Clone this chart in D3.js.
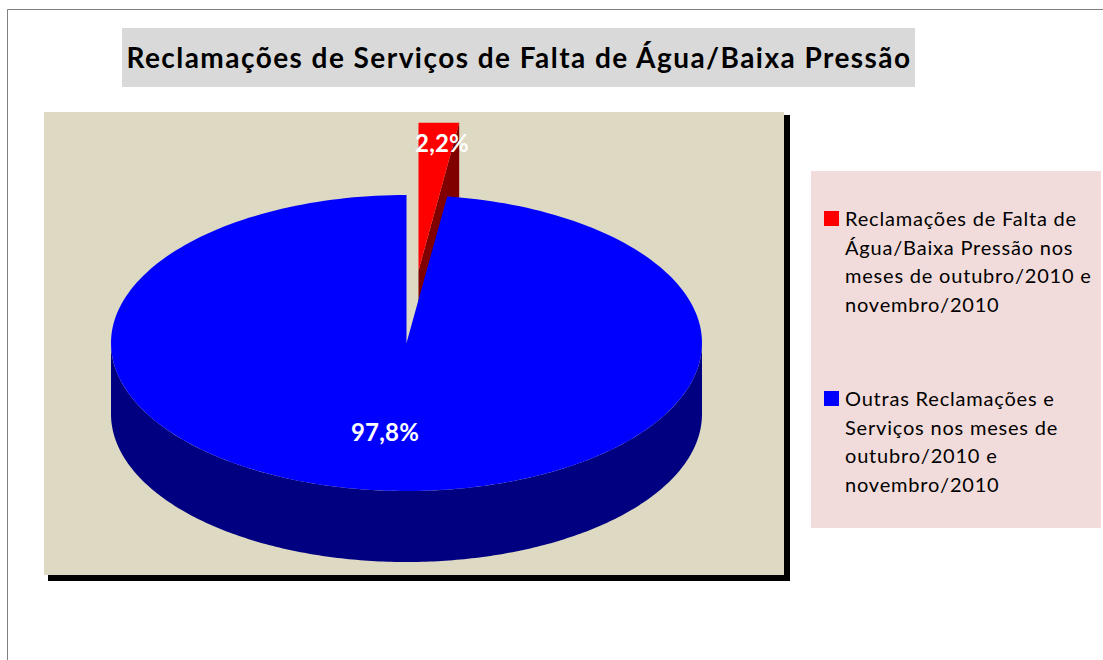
<!DOCTYPE html>
<html>
<head>
<meta charset="utf-8">
<script src="https://cdn.jsdelivr.net/npm/d3@7"></script>
<style>
    html, body { margin: 0; padding: 0; background: #fff; overflow: hidden; }
    svg { display: block; }
    text { font-family: Lato, "Open Sans", sans-serif; }
</style>
</head>
<body>
<svg id="chart" width="1103" height="660"></svg>
<script>
// Chart data
const categories = ['Reclamações de Falta de Água/Baixa Pressão', 'Outras Reclamações e Serviços'];
const values = [2.2, 97.8];
const valueLabels = ['2,2%', '97,8%'];
const legendLines = [
    ['Reclamações de Falta de', 'Água/Baixa Pressão nos', 'meses de outubro/2010 e', 'novembro/2010'],
    ['Outras Reclamações e', 'Serviços nos meses de', 'outubro/2010 e', 'novembro/2010'],
];
const titleText = 'Reclamações de Serviços de Falta de Água/Baixa Pressão';

const topColors = ['#ff0000', '#0000ff'];
const sideColors = ['#800000', '#000080'];

const svg = d3.select('#chart');

// Frame, title and plot backgrounds
svg.append('path')
    .attr('d', 'M7.5,660V9.5H1103')
    .attr('fill', 'none')
    .attr('stroke', '#808080')
    .attr('stroke-width', 1);

svg.append('rect').attr('x', 122).attr('y', 28).attr('width', 793).attr('height', 59).attr('fill', '#d9d9d9');
svg.append('text')
    .attr('x', 519)
    .attr('y', 68)
    .attr('text-anchor', 'middle')
    .attr('font-size', 28)
    .attr('font-weight', 700)
    .attr('letter-spacing', 1.45)
    .attr('fill', '#000')
    .text(titleText);

svg.append('rect').attr('x', 48).attr('y', 115).attr('width', 742).attr('height', 466).attr('fill', '#000');
svg.append('rect').attr('x', 44).attr('y', 112).attr('width', 740).attr('height', 463).attr('fill', '#ddd9c3');

// Pie projected on a flattened ellipse
const x = d3.scaleLinear().domain([-1, 1]).range([111, 702]);
const y = d3.scaleLinear().domain([-1, 1]).range([195, 491]);
const depth = 71;
const explode = 0.49;

const slices = d3.pie().sort(null).startAngle(0).endAngle(2 * Math.PI)(values);

const line = d3.line().x(d => d[0]).y(d => d[1]);
const rim = a => [x(Math.sin(a)), y(-Math.cos(a))];
const arcPoints = (a0, a1) => d3.range(0, 241).map(i => rim(a0 + (a1 - a0) * i / 240));

const red = slices[0];
const blue = slices[1];
const centre = [x(0), y(0)];

// Exploded slice offset along its middle angle
const midRed = (red.startAngle + red.endAngle) / 2;
const redDx = x(Math.sin(midRed) * explode) - x(0) + 2;
const redDy = y(-Math.cos(midRed) * explode) - y(0);
const redGroup = svg.append('g').attr('transform', `translate(${redDx},${redDy})`);

// The slice is narrow enough that its rim renders flat
const redRim = arcPoints(red.startAngle, red.endAngle).map(p => [p[0], y(-1)]);
const redEnd = redRim[redRim.length - 1];

// Side face of the red slice
redGroup.append('path')
    .attr('d', line([centre, redEnd, [redEnd[0], redEnd[1] + depth + 3], [centre[0], centre[1] + depth + 3]]) + 'Z')
    .attr('fill', sideColors[0]);
redGroup.append('path')
    .attr('d', line([centre, ...redRim]) + 'Z')
    .attr('fill', topColors[0]);

// Wall of the blue slice, front half of the ellipse
const front = arcPoints(Math.PI / 2, 3 * Math.PI / 2);
svg.append('path')
    .attr('d', line([...front, ...front.slice().reverse().map(p => [p[0], p[1] + depth])]) + 'Z')
    .attr('fill', sideColors[1]);
svg.append('path')
    .attr('d', line([centre, ...arcPoints(blue.startAngle, blue.endAngle)]) + 'Z')
    .attr('fill', topColors[1]);

// Value labels
const labelPos = [[442, 143], [385, 432]];
svg.selectAll('text.value')
    .data(valueLabels)
    .join('text')
    .attr('class', 'value')
    .attr('x', (d, i) => labelPos[i][0])
    .attr('y', (d, i) => labelPos[i][1])
    .attr('dy', '0.36em')
    .attr('text-anchor', 'middle')
    .attr('font-size', 24)
    .attr('font-weight', 700)
    .attr('letter-spacing', 0.2)
    .attr('fill', '#fff')
    .text(d => d);

// Legend
svg.append('rect').attr('x', 811).attr('y', 171).attr('width', 290).attr('height', 357).attr('fill', '#f2dcdb');

const legendTop = [226, 406];
const legend = svg.selectAll('g.legend')
    .data(categories)
    .join('g')
    .attr('class', 'legend')
    .attr('transform', (d, i) => `translate(0,${legendTop[i]})`);

legend.append('rect')
    .attr('x', 824)
    .attr('y', -15)
    .attr('width', 15)
    .attr('height', 15)
    .attr('fill', (d, i) => topColors[i]);

legend.each(function (d, i) {
    d3.select(this).selectAll('text')
        .data(legendLines[i])
        .join('text')
        .attr('x', 845)
        .attr('y', (t, j) => j * 28.6)
        .attr('font-size', 20)
        .attr('letter-spacing', 0.8)
        .attr('fill', '#000')
        .text(t => t);
});
</script>
</body>
</html>
